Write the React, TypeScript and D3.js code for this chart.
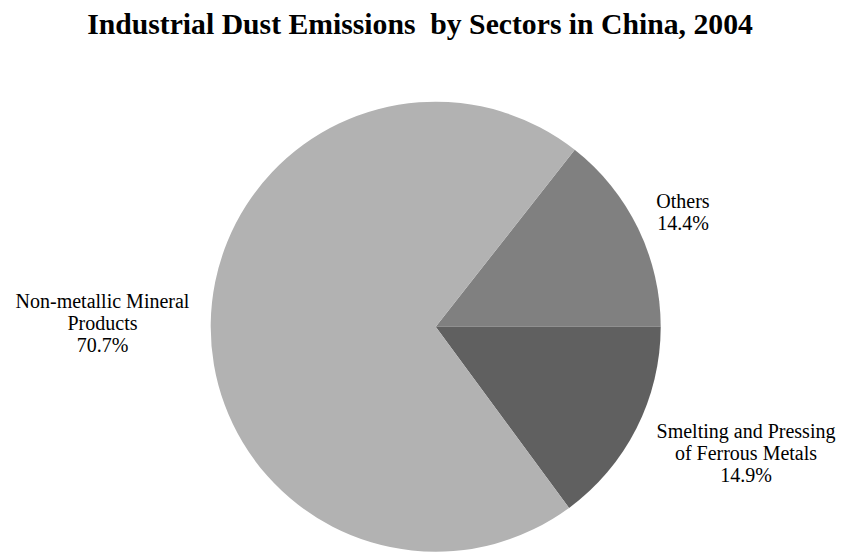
import React from "react";
import * as d3 from "d3";

const categories = ["Others", "Smelting and Pressing of Ferrous Metals", "Non-metallic Mineral Products"];
const values = [14.4, 14.9, 70.7];
const colors = ["#808080", "#606060", "#b2b2b2"];
const labelLines = [
  ["Others", "14.4%"],
  ["Smelting and Pressing", "of Ferrous Metals", "14.9%"],
  ["Non-metallic Mineral", "Products", "70.7%"],
];
const labelPos = [
  [683, 208],
  [746, 438],
  [102.5, 308],
];

export default function App() {
  const W = 843, H = 552;
  const cx = 435.7, cy = 326.7, r = 225;
  const total = d3.sum(values);
  const start = Math.PI / 2 - (values[0] / total) * 2 * Math.PI;
  const pie = d3.pie<number>().sort(null).startAngle(start).endAngle(start + 2 * Math.PI);
  const arcs = pie(values);
  const arc = d3.arc<d3.PieArcDatum<number>>().innerRadius(0).outerRadius(r);
  return (
    <svg width={W} height={H} style={{ position: "absolute", left: 0, top: 0, background: "#fff" }}>
      <text x={420} y={34} textAnchor="middle" fontFamily="Liberation Serif" fontWeight="bold" fontSize={29.7}>
        Industrial Dust Emissions{"\u00a0"} by Sectors in China, 2004
      </text>
      <g transform={`translate(${cx},${cy})`}>
        {arcs.map((a, i) => (
          <path key={categories[i]} d={arc(a) || ""} fill={colors[i]} />
        ))}
      </g>
      {labelLines.map((lines, i) => (
        <text key={i} textAnchor="middle" fontFamily="Liberation Serif" fontSize={20} fill="#000">
          {lines.map((l, j) => (
            <tspan key={j} x={labelPos[i][0]} y={labelPos[i][1] + j * 22}>{l}</tspan>
          ))}
        </text>
      ))}
    </svg>
  );
}
